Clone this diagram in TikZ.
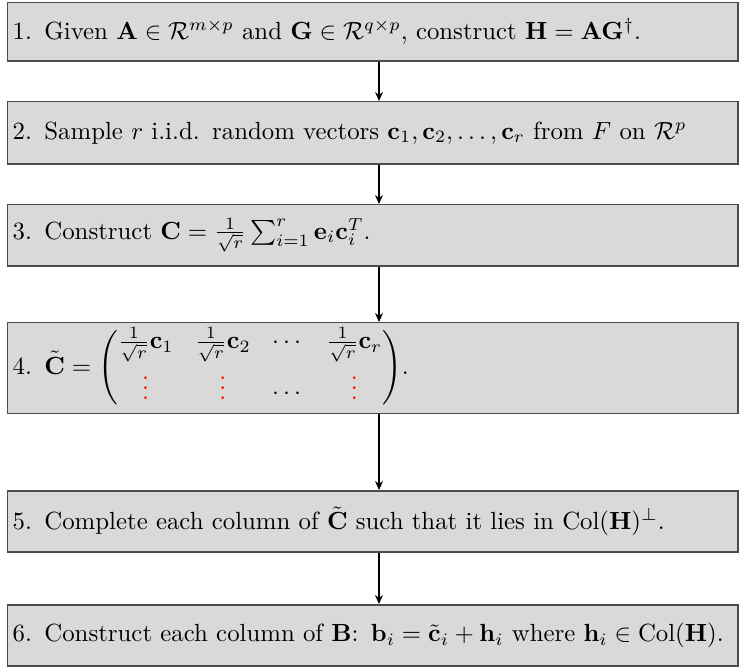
\documentclass[tikz,border=0pt]{standalone}
\usepackage{amsmath}
\usetikzlibrary{arrows.meta}

\tikzset{
    stepbox/.style={draw=black!70, fill=gray!30, line width=0.6pt, minimum width=294.2pt,
        text width=294.2pt-4pt, inner xsep=2pt, inner ysep=2pt, align=left, anchor=north west},
    flow/.style={-{Stealth[length=3.6pt,width=3.2pt]}, line width=0.6pt}
}

\begin{document}
\begin{tikzpicture}[x=0.403pt, y=-0.403pt]
    \useasboundingbox (0,0) rectangle (739,669);
    \coordinate (ax) at (379,0);
    \node[stepbox, minimum height=23.4pt] (s1) at (7,2)
        {1. Given $\mathbf{A}\in\mathcal{R}^{m\times p}$ and $\mathbf{G}\in\mathcal{R}^{q\times p}$, construct $\mathbf{H}=\mathbf{A}\mathbf{G}^{\dagger}$.};
    \node[stepbox, minimum height=25pt] (s2) at (7,101)
        {2. Sample $r$ i.i.d. random vectors $\mathbf{c}_1,\mathbf{c}_2,\ldots,\mathbf{c}_r$ from $F$ on $\mathcal{R}^p$};
    \node[stepbox, minimum height=24.6pt] (s3) at (7,204)
        {3. Construct $\mathbf{C}=\frac{1}{\sqrt{r}}\sum_{i=1}^{r}\mathbf{e}_i\mathbf{c}_i^T$.};
    \node[stepbox, minimum height=36.3pt] (s4) at (7,322)
        {\setlength{\arraycolsep}{4.3pt}%
        4. $\tilde{\mathbf{C}}=\begin{pmatrix}
            \frac{1}{\sqrt{r}}\mathbf{c}_1 & \frac{1}{\sqrt{r}}\mathbf{c}_2 & \cdots & \frac{1}{\sqrt{r}}\mathbf{c}_r\\
            \color{red}\vdots & \color{red}\vdots & \cdots & \color{red}\vdots
        \end{pmatrix}$.};
    \node[stepbox, minimum height=24.6pt] (s5) at (7,490)
        {5. Complete each column of $\tilde{\mathbf{C}}$ such that it lies in $\mathrm{Col}(\mathbf{H})^{\perp}$.};
    \node[stepbox, minimum height=24.6pt] (s6) at (7,604)
        {6. Construct each column of $\mathbf{B}$: $\mathbf{b}_i=\tilde{\mathbf{c}}_i+\mathbf{h}_i$ where $\mathbf{h}_i\in\mathrm{Col}(\mathbf{H})$.};
    \draw[flow] (s1.south -| ax) -- (s2.north -| ax);
    \draw[flow] (s2.south -| ax) -- (s3.north -| ax);
    \draw[flow] (s3.south -| ax) -- (s4.north -| ax);
    \draw[flow] (s4.south -| ax) -- (s5.north -| ax);
    \draw[flow] (s5.south -| ax) -- (s6.north -| ax);
\end{tikzpicture}
\end{document}
